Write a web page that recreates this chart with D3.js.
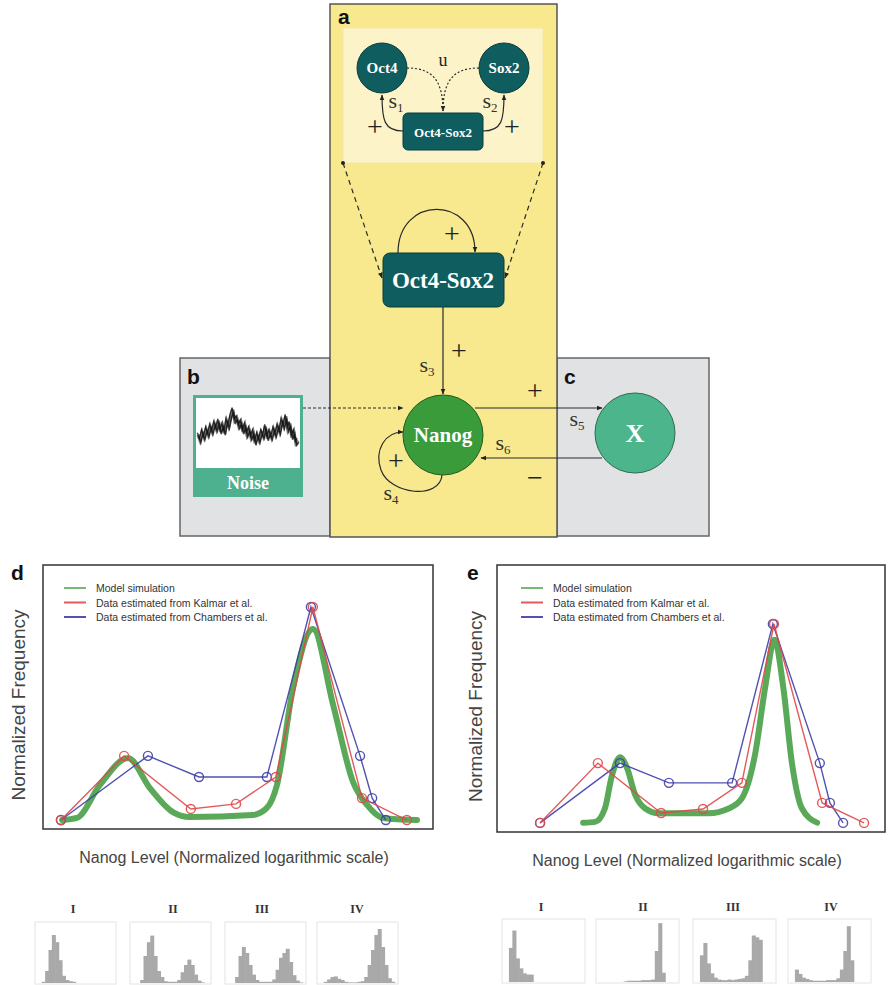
<!DOCTYPE html>
<html>
<head>
<meta charset="utf-8">
<script src="https://cdn.jsdelivr.net/npm/d3@7"></script>
<style>
  body { margin: 0; background: #fff; }
  svg { display: block; }
</style>
</head>
<body>
<svg id="fig" width="889" height="985"></svg>
<script>
// ---- panel d values (x: normalized log Nanog level 0-10, y: normalized frequency 0-1)
const kalmarDx = [0.46, 2.08, 3.79, 4.95, 5.97, 6.92, 8.18, 9.33];
const kalmarDy = [0.034, 0.277, 0.076, 0.095, 0.197, 0.841, 0.117, 0.034];
const chambersDx = [0.46, 2.69, 4.0, 5.74, 6.87, 8.13, 8.44, 8.79];
const chambersDy = [0.034, 0.277, 0.197, 0.197, 0.841, 0.277, 0.117, 0.034];
const modelDx = [0.49, 0.87, 1.46, 2.18, 2.74, 3.33, 3.77, 5.38, 5.74, 6.0, 6.41, 6.92, 7.44, 7.95, 8.31, 8.72, 9.59];
const modelDy = [0.034, 0.042, 0.167, 0.269, 0.155, 0.064, 0.045, 0.053, 0.08, 0.167, 0.534, 0.758, 0.47, 0.178, 0.091, 0.042, 0.034];

// ---- panel e values
const kalmarEx = [1.11, 2.60, 4.23, 5.31, 6.31, 7.14, 8.38, 9.46];
const kalmarEy = [0.034, 0.258, 0.071, 0.086, 0.184, 0.779, 0.109, 0.034];
const chambersEx = [1.11, 3.17, 4.43, 6.06, 7.11, 8.32, 8.58, 8.92];
const chambersEy = [0.034, 0.258, 0.184, 0.184, 0.779, 0.258, 0.109, 0.034];
const modelEx = [2.22, 2.53, 2.78, 2.96, 3.17, 3.35, 3.56, 3.82, 4.17, 5.45, 5.97, 6.31, 6.65, 6.91, 7.15, 7.38, 7.6, 7.86, 8.25];
const modelEy = [0.035, 0.038, 0.088, 0.21, 0.28, 0.24, 0.14, 0.088, 0.07, 0.07, 0.088, 0.126, 0.29, 0.54, 0.72, 0.54, 0.26, 0.088, 0.035];

const legendLabels = ["Model simulation", "Data estimated from Kalmar et al.", "Data estimated from Chambers et al."];
const histLabels = ["I", "II", "III", "IV"];

// small histograms under d and e (24 bins, relative height)
const histD1 = [0,0,0.02,0.2,0.55,0.8,0.68,0.38,0.12,0.05,0.03,0.02,0,0,0,0,0,0,0,0,0,0,0,0];
const histD2 = [0,0,0,0.05,0.45,0.68,0.79,0.45,0.2,0.1,0.03,0.02,0.02,0.02,0.05,0.18,0.3,0.39,0.3,0.14,0.04,0.01,0,0];
const histD3 = [0,0,0,0.1,0.45,0.6,0.5,0.3,0.14,0.05,0.02,0.02,0.02,0.02,0.06,0.22,0.42,0.5,0.57,0.35,0.13,0.04,0.01,0];
const histD4 = [0,0,0.02,0.06,0.1,0.11,0.07,0.05,0.02,0.01,0.01,0.01,0.02,0.03,0.1,0.3,0.55,0.8,0.9,0.6,0.3,0.08,0.02,0];
const histE1 = [0,0,0.55,0.83,0.38,0.22,0.14,0.12,0.12,0,0,0,0,0,0,0,0,0,0,0,0,0,0,0];
const histE2 = [0,0,0,0,0,0,0,0,0.01,0.02,0.02,0.02,0.02,0.03,0.03,0.03,0.04,0.5,0.95,0.15,0,0,0,0];
const histE3 = [0,0,0.43,0.63,0.3,0.14,0.07,0.04,0.03,0.03,0.04,0.03,0.04,0.05,0.06,0.1,0.35,0.75,0.72,0.68,0,0,0,0];
const histE4 = [0,0,0.2,0.13,0.07,0.05,0.03,0.02,0.02,0.02,0.02,0.03,0.03,0.03,0.06,0.2,0.5,0.9,0.35,0,0,0,0,0];

// noise trace in panel b (relative height)
const noiseTrace = [0.45,0.35,0.5,0.4,0.55,0.45,0.6,0.5,0.65,0.55,0.7,0.5,0.62,0.48,0.7,0.6,0.78,0.9,0.7,0.75,
  0.6,0.68,0.5,0.62,0.45,0.55,0.4,0.5,0.3,0.45,0.35,0.5,0.42,0.6,0.38,0.5,0.4,0.55,0.45,0.6,
  0.5,0.7,0.6,0.78,0.55,0.65,0.4,0.5,0.3,0.35];

const svg = d3.select("#fig");
const serif = "'Liberation Serif', 'DejaVu Serif', serif";
const sans = "'Liberation Sans', Arial, sans-serif";

const defs = svg.append("defs");
defs.append("marker").attr("id", "arr").attr("viewBox", "0 0 10 10")
  .attr("refX", 9).attr("refY", 5).attr("markerWidth", 5).attr("markerHeight", 5)
  .attr("orient", "auto-start-reverse")
  .append("path").attr("d", "M0,1 L10,5 L0,9 z").attr("fill", "#222");
defs.append("filter").attr("id", "soft").append("feGaussianBlur").attr("stdDeviation", 0.6);

// ================= diagram =================
svg.append("rect").attr("x", 180).attr("y", 358).attr("width", 150).attr("height", 178)
  .attr("fill", "#e1e2e4").attr("stroke", "#666").attr("stroke-width", 1.5);
svg.append("rect").attr("x", 557).attr("y", 358).attr("width", 152).attr("height", 178)
  .attr("fill", "#e1e2e4").attr("stroke", "#666").attr("stroke-width", 1.5);
svg.append("rect").attr("x", 330).attr("y", 4).attr("width", 227).attr("height", 533)
  .attr("fill", "#f8e98e").attr("stroke", "#555").attr("stroke-width", 1.5);
svg.append("rect").attr("x", 343).attr("y", 28).attr("width", 200).attr("height", 135)
  .attr("fill", "#fcf3c8").attr("stroke", "#f3e6a8").attr("stroke-width", 1);

const label = (x, y, t) => svg.append("text").attr("x", x).attr("y", y).text(t)
  .attr("font-family", sans).attr("font-weight", "bold").attr("font-size", 21).attr("fill", "#111");
label(338, 24, "a"); label(187, 384, "b"); label(564, 384, "c");

const teal = "#0f5d5e";
const line = (d, dash, marker) => {
  const p = svg.append("path").attr("d", d).attr("fill", "none").attr("stroke", "#2a2a2a").attr("stroke-width", 1.2);
  if (dash) p.attr("stroke-dasharray", dash);
  if (marker) p.attr("marker-end", "url(#arr)");
  return p;
};
const nodeText = (x, y, t, size) => svg.append("text").attr("x", x).attr("y", y).text(t)
  .attr("text-anchor", "middle").attr("dominant-baseline", "central")
  .attr("font-family", serif).attr("font-weight", "bold").attr("font-size", size).attr("fill", "#fff");
const plain = (x, y, t, size) => svg.append("text").attr("x", x).attr("y", y).text(t)
  .attr("text-anchor", "middle").attr("dominant-baseline", "central")
  .attr("font-family", serif).attr("font-size", size).attr("fill", "#222");
const sLabel = (x, y, sub) => {
  const t = svg.append("text").attr("x", x).attr("y", y).attr("text-anchor", "middle")
    .attr("font-family", serif).attr("font-size", 22).attr("fill", "#333");
  t.append("tspan").text("s");
  t.append("tspan").text(sub).attr("font-size", 13).attr("dy", 4);
};

// inset: Oct4 / Sox2 -> complex
line("M407,68 C432,68 443,80 443,111", "2,2", true);
line("M479,68 C454,68 443,80 443,111", "2,2", false);
line("M403,131 C384,131 382,120 382,95", null, true);
line("M483,131 C502,131 504,120 504,95", null, true);
svg.append("circle").attr("cx", 382).attr("cy", 68).attr("r", 25).attr("fill", teal).attr("stroke", "#083c3c");
svg.append("circle").attr("cx", 504).attr("cy", 68).attr("r", 25).attr("fill", teal).attr("stroke", "#083c3c");
nodeText(382, 68, "Oct4", 15); nodeText(504, 68, "Sox2", 15);
svg.append("rect").attr("x", 403).attr("y", 113).attr("width", 80).attr("height", 37).attr("rx", 5)
  .attr("fill", teal).attr("stroke", "#083c3c");
nodeText(443, 132, "Oct4-Sox2", 13);
plain(443, 60, "u", 18);
sLabel(396, 108, "1"); sLabel(490, 108, "2");
plain(375, 126, "+", 28); plain(512, 126, "+", 28);

// zoom lines to big complex box
line("M343,163 L382,278", "5,4", true);
line("M543,163 L505,278", "5,4", true);
svg.append("circle").attr("cx", 343).attr("cy", 163).attr("r", 2).attr("fill", "#222");
svg.append("circle").attr("cx", 543).attr("cy", 163).attr("r", 2).attr("fill", "#222");

// big Oct4-Sox2 with self loop
line("M398,253 C398,195 475,195 475,252", null, true);
svg.append("rect").attr("x", 383).attr("y", 253).attr("width", 121).attr("height", 54).attr("rx", 7)
  .attr("fill", teal).attr("stroke", "#083c3c");
nodeText(443, 280, "Oct4-Sox2", 23);
plain(452, 233, "+", 28);
line("M443,307 L443,394", null, true);
plain(459, 350, "+", 28);
sLabel(427, 372, "3");

// noise box
svg.append("rect").attr("x", 193).attr("y", 395).attr("width", 110).attr("height", 102).attr("fill", "#4db08e");
svg.append("rect").attr("x", 196).attr("y", 398).attr("width", 104).attr("height", 70).attr("fill", "#fff");
const nx = d3.scaleLinear().domain([0, noiseTrace.length - 1]).range([198, 298]);
const ny = d3.scaleLinear().domain([0, 1]).range([460, 404]);
const noiseLine = d3.line().x((d, i) => nx(i)).y(d => ny(d));
[[0, 0, 3.2, 0.55], [0.8, 2, 1.6, 0.8], [-0.6, -2, 1.4, 0.8]].forEach(([dx, dy, w, o]) => {
  svg.append("path").datum(noiseTrace).attr("d", noiseLine)
    .attr("transform", `translate(${dx},${dy})`).attr("filter", "url(#soft)")
    .attr("fill", "none").attr("stroke", "#111").attr("stroke-width", w).attr("stroke-opacity", o);
});
nodeText(248, 483, "Noise", 18);
line("M303,408 L403,408", "3,2", true);

// Nanog node and loops
line("M442,475 C440,500 390,495 381,470 C374,450 385,432 403,432", null, true);
line("M475,408 L602,408", null, true);
line("M602,458 L481,458", null, true);
svg.append("circle").attr("cx", 443).attr("cy", 435).attr("r", 40).attr("fill", "#3a9b3a").attr("stroke", "#1f5a1f");
nodeText(443, 435, "Nanog", 21);
plain(396, 460, "+", 28);
sLabel(391, 500, "4");
plain(535, 390, "+", 28);
plain(535, 477, "\u2212", 28);
sLabel(577, 426, "5");
sLabel(503, 450, "6");

// X node
svg.append("circle").attr("cx", 635).attr("cy", 433).attr("r", 40).attr("fill", "#4db58c").attr("stroke", "#2c6b52");
nodeText(635, 433, "X", 26);

// ================= distribution charts =================
const green = "#3c9a3c", red = "#e04848", blue = "#3f3fa8";

function drawChart(opt) {
  const x = d3.scaleLinear().domain([0, 10]).range([opt.x0, opt.x1]);
  const y = d3.scaleLinear().domain([0, 1]).range([opt.y1, opt.y0]);
  const g = svg.append("g");

  g.append("rect").attr("x", opt.x0).attr("y", opt.y0).attr("width", opt.x1 - opt.x0).attr("height", opt.y1 - opt.y0)
    .attr("fill", "#fff").attr("stroke", "#333").attr("stroke-width", 1.5);

  const model = opt.mx.map((v, i) => [v, opt.my[i]]);
  g.append("path").datum(model)
    .attr("d", d3.line().x(d => x(d[0])).y(d => y(d[1])).curve(d3.curveMonotoneX))
    .attr("fill", "none").attr("stroke", green).attr("stroke-width", 6).attr("stroke-opacity", 0.85)
    .attr("stroke-linecap", "round");

  [[opt.cx, opt.cy, blue], [opt.kx, opt.ky, red]].forEach(([xs, ys, col]) => {
    const pts = xs.map((v, i) => [v, ys[i]]);
    g.append("path").datum(pts)
      .attr("d", d3.line().x(d => x(d[0])).y(d => y(d[1])))
      .attr("fill", "none").attr("stroke", col).attr("stroke-width", 1.4).attr("stroke-opacity", 0.9);
    g.selectAll(null).data(pts).enter().append("circle")
      .attr("cx", d => x(d[0])).attr("cy", d => y(d[1])).attr("r", 4.5)
      .attr("fill", "none").attr("stroke", col).attr("stroke-width", 1.4).attr("stroke-opacity", 0.9);
  });

  const lg = g.append("g");
  [green, red, blue].forEach((col, i) => {
    const yy = opt.ly + i * 14.5;
    lg.append("line").attr("x1", opt.lx).attr("x2", opt.lx + 22).attr("y1", yy).attr("y2", yy)
      .attr("stroke", col).attr("stroke-width", 2).attr("stroke-opacity", i === 0 ? 0.7 : 0.9);
    lg.append("text").attr("x", opt.lx + 32).attr("y", yy).attr("dominant-baseline", "central")
      .attr("font-family", sans).attr("font-size", 10.5).attr("fill", "#333").text(legendLabels[i]);
  });

  g.append("text").attr("transform", `translate(${opt.yLabX},${(opt.y0 + opt.y1) / 2 + 8}) rotate(-90)`)
    .attr("text-anchor", "middle").attr("font-family", sans).attr("font-size", 19).attr("fill", "#444")
    .text("Normalized Frequency");
  g.append("text").attr("x", (opt.x0 + opt.x1) / 2 - 4).attr("y", opt.y1 + 34)
    .attr("text-anchor", "middle").attr("font-family", sans).attr("font-size", 16).attr("fill", "#444")
    .text("Nanog Level (Normalized logarithmic scale)");
  label(opt.tagX, opt.y0 + 15, opt.tag);
}

drawChart({ tag: "d", tagX: 11, x0: 43, x1: 433, y0: 565, y1: 829, yLabX: 25,
  kx: kalmarDx, ky: kalmarDy, cx: chambersDx, cy: chambersDy, mx: modelDx, my: modelDy, lx: 64, ly: 588 });
drawChart({ tag: "e", tagX: 467, x0: 497, x1: 885, y0: 565, y1: 832, yLabX: 482,
  kx: kalmarEx, ky: kalmarEy, cx: chambersEx, cy: chambersEy, mx: modelEx, my: modelEy, lx: 521, ly: 588 });

// ================= small histograms =================
function drawHist(bins, bx, by, bw, bh, name, lx, ly) {
  const g = svg.append("g");
  g.append("rect").attr("x", bx).attr("y", by).attr("width", bw).attr("height", bh)
    .attr("fill", "#fff").attr("stroke", "#e4e4e4").attr("stroke-width", 1);
  const x = d3.scaleBand().domain(d3.range(bins.length)).range([bx, bx + bw]).padding(0);
  const y = d3.scaleLinear().domain([0, 1]).range([by + bh - 1, by + 1]);
  g.selectAll(null).data(bins).enter().append("rect")
    .attr("x", (d, i) => x(i)).attr("width", x.bandwidth() + 0.6)
    .attr("y", d => y(d)).attr("height", d => by + bh - 1 - y(d))
    .attr("fill", "#a9a9a9");
  g.append("text").attr("x", lx).attr("y", ly).attr("text-anchor", "middle")
    .attr("font-family", serif).attr("font-weight", "bold").attr("font-size", 12).attr("fill", "#333").text(name);
}
const histDs = [histD1, histD2, histD3, histD4];
const histEs = [histE1, histE2, histE3, histE4];
const dBoxX = [35, 130, 225, 317], dLabX = [73, 173, 262, 357];
const eBoxX = [502, 596, 693, 788], eLabX = [541, 643, 733, 831];
histDs.forEach((b, i) => drawHist(b, dBoxX[i], 922, 81, 62, histLabels[i], dLabX[i], 913));
histEs.forEach((b, i) => drawHist(b, eBoxX[i], 919, 83, 64, histLabels[i], eLabX[i], 911));
</script>
</body>
</html>
